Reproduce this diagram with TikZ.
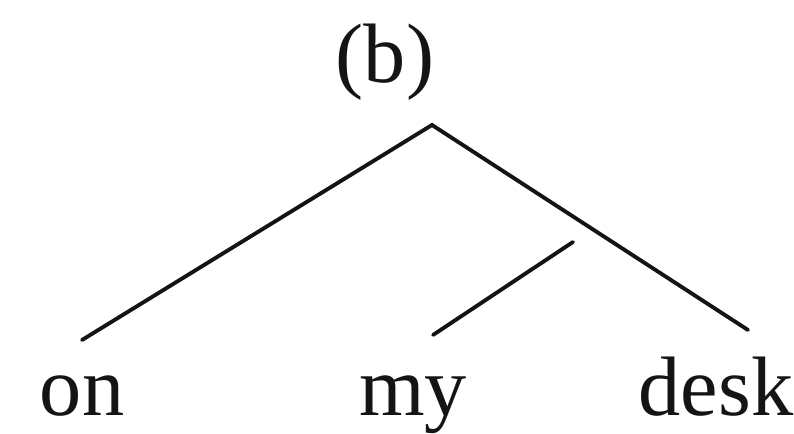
\documentclass[tikz,border=0pt]{standalone}
\usepackage{fontspec}
\setmainfont{Liberation Serif}
\usepackage{xcolor}
\definecolor{inkblack}{RGB}{20, 20, 20}
\usepackage{tikz}
\usetikzlibrary{positioning}

\tikzset{
    word/.style={inner sep=0pt, anchor=base, font=\fontsize{48}{56}\selectfont, text=inkblack},
    branch/.style={line width=2.2pt, inkblack, line cap=round}
}

\begin{document}
\begin{tikzpicture}
    \useasboundingbox (0,0) rectangle (15.88,8.66);

    \node[word] (label) at (7.7, 7.0) {(b)};

    % the tree
    \coordinate (top) at (8.64, 6.16);
    \coordinate (onleg) at (1.64, 1.86);
    \coordinate (deskleg) at (14.96, 2.06);
    \coordinate (myleg) at (8.66, 1.96);
    \coordinate (joint) at (11.46, 3.82);

    \node[word] (on) at (1.64, 0.36) {on};
    \node[word] (my) at (8.26, 0.36) {my};
    \node[word] (desk) at (14.32, 0.36) {desk};

    \draw[branch] (onleg) -- (top) -- (deskleg);
    \draw[branch] (myleg) -- (joint);
\end{tikzpicture}
\end{document}
